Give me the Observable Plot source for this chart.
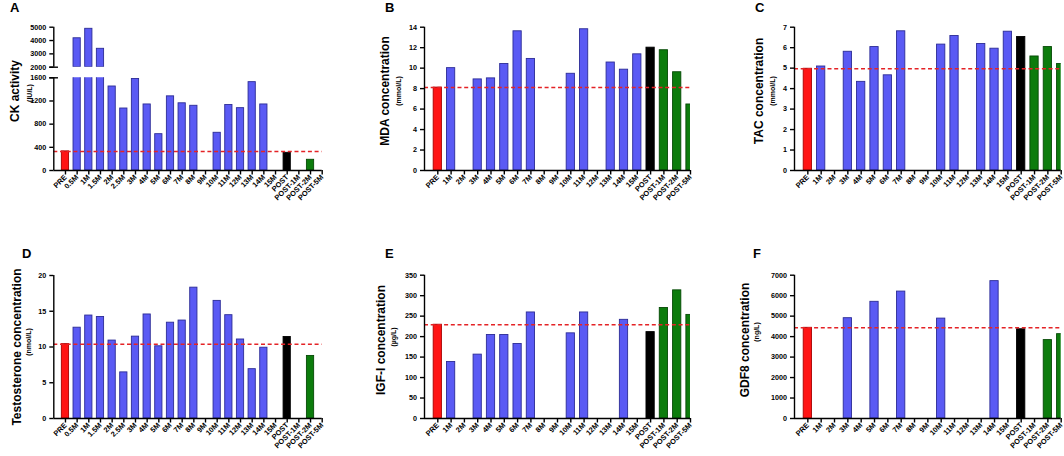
<!DOCTYPE html>
<html><head><meta charset="utf-8">
<script src="https://cdn.jsdelivr.net/npm/d3@7"></script>
<script src="https://cdn.jsdelivr.net/npm/@observablehq/plot@0.6"></script>
<style>
body{margin:0;background:#fff;}
#chart{position:relative;width:1064px;height:456px;overflow:hidden;font-family:"Liberation Sans",Arial,Helvetica,sans-serif;background:#fff;}
#chart svg{position:absolute;}
.lbl{position:absolute;font-weight:bold;white-space:nowrap;color:#000;line-height:1;}
.panel{font-size:13px;}
.ytitle{font-size:12px;transform:translate(-50%,-50%) rotate(-90deg);}
.yunit{font-size:7px;transform:translate(-50%,-50%) rotate(-90deg);}
</style></head><body><div id="chart"></div>
<script>
// ---------- data ----------
const catsLong = ["PRE","0.5M","1M","1.5M","2M","2.5M","3M","4M","5M","6M","7M","8M","9M","10M","11M","12M","13M","14M","15M","POST","POST-1M","POST-2M","POST-5M"];
const catsShort = ["PRE","1M","2M","3M","4M","5M","6M","7M","8M","9M","10M","11M","12M","13M","14M","15M","POST","POST-1M","POST-2M","POST-5M"];

const ckValues = [330,4170,4880,3380,1450,1070,1580,1140,627,1280,1160,1117,null,651,1130,1076,1525,1140,null,305,null,185,null];
const mdaValues = [8.1,10.0,null,8.9,9.0,10.4,13.6,10.9,null,null,9.45,13.8,null,10.55,9.85,11.35,12.0,11.75,9.6,6.45];
const tacValues = [4.97,5.08,null,5.8,4.33,6.03,4.65,6.8,null,null,6.15,6.57,null,6.18,5.95,6.78,6.52,5.57,6.03,5.2];
const testoValues = [10.4,12.7,14.4,14.2,10.9,6.45,11.45,14.55,10.1,13.4,13.7,18.3,null,16.45,14.45,11.05,6.9,9.9,null,11.4,null,8.75,null];
const igfValues = [229,138,null,156,204,204,182,259,null,null,208,259,null,null,241,null,211,270,313,253];
const gdfValues = [4430,null,null,4900,null,5700,null,6200,null,null,4880,null,null,null,6710,null,4360,null,3830,4120];

const ckTicksLow = [0,400,800,1200,1600];
const ckTicksHigh = [2000,3000,4000,5000];
const mdaTicks = [0,2,4,6,8,10,12,14];
const tacTicks = [0,1,2,3,4,5,6,7];
const testoTicks = [0,5,10,15,20];
const igfTicks = [0,50,100,150,200,250,300,350];
const gdfTicks = [0,1000,2000,3000,4000,5000,6000,7000];

// ---------- styling ----------
function fillOf(c){ return c === "PRE" ? "#ff1414" : c === "POST" ? "#000000" : c.startsWith("POST-") ? "#0c7c0c" : "#5a5af4"; }
function strokeOf(c){ return c === "PRE" ? "#a80000" : c === "POST" ? "#000000" : c.startsWith("POST-") ? "#064a06" : "#2c2c96"; }

// box = [x0, y0, x1, y1] region of the svg on the page; frame = [left, top, right, bottom] in page pixels
function makePlot({cats, values, domain, ticks, box, frame, xAxis = true, breakMark = null, showRef = true}) {
  const [bx0, by0, bx1, by1] = box;
  const [fl, ft, fr, fb] = frame;
  const data = cats.map((c, i) => ({c, i, v: values[i]})).filter(d => d.v != null && d.v > domain[0]);
  const xmin = -1, xmax = cats.length - 1;
  const half = 0.31;
  const marks = [
    Plot.rectY(data, {
      x1: d => d.i - half, x2: d => d.i + half,
      y1: domain[0], y2: "v",
      fill: d => fillOf(d.c), stroke: d => strokeOf(d.c), strokeWidth: 0.9,
      clip: true
    })
  ];
  if (showRef) {
    marks.push(Plot.ruleY([values[0]], {stroke: "#e42326", strokeWidth: 1.5, strokeDasharray: "4,2.7"}));
  }
  marks.push(Plot.ruleX([xmin], {stroke: "#000", strokeWidth: 1.4}));
  marks.push(Plot.axisY({ticks, tickSize: 4, tickPadding: 3.5, tickFormat: d => String(d), strokeWidth: 1.4, fontSize: 7.2, label: null}));
  if (breakMark != null) {
    marks.push(Plot.ruleY([breakMark], {x1: xmin - 0.35, x2: xmin + 0.4, stroke: "#000", strokeWidth: 1.4}));
  }
  if (xAxis) {
    marks.push(Plot.ruleY([domain[0]], {stroke: "#000", strokeWidth: 1.4}));
    marks.push(Plot.axisX({ticks: d3.range(cats.length), tickFormat: i => cats[i], tickRotate: -45, tickSize: 4.5, tickPadding: 1, strokeWidth: 1.4, fontSize: 7.4, label: null}));
  }
  const svg = Plot.plot({
    width: bx1 - bx0, height: by1 - by0,
    marginLeft: fl - bx0, marginRight: bx1 - fr, marginTop: ft - by0, marginBottom: by1 - fb,
    x: {type: "linear", domain: [xmin, xmax], label: null, axis: xAxis ? undefined : null},
    y: {domain, label: null},
    color: {type: "identity"},
    style: {background: "#fff", fontFamily: "'Liberation Sans', Arial, sans-serif", fontSize: "7.4px", fontWeight: "bold", color: "#000", overflow: "visible", maxWidth: "none"},
    marks
  });
  svg.style.left = bx0 + "px";
  svg.style.top = by0 + "px";
  return svg;
}

const chart = document.getElementById("chart");
const plots = [
  // A (broken axis: upper and lower segments)
  makePlot({cats: catsLong, values: ckValues, domain: [2000, 5000], ticks: ckTicksHigh, box: [0, 0, 355, 72], frame: [53.3, 26.7, 321.7, 66.7], xAxis: false, breakMark: 2000, showRef: false}),
  makePlot({cats: catsLong, values: ckValues, domain: [0, 1600], ticks: ckTicksLow, box: [0, 72, 355, 228], frame: [53.3, 77.3, 321.7, 170], breakMark: 1600}),
  // B
  makePlot({cats: catsShort, values: mdaValues, domain: [0, 14], ticks: mdaTicks, box: [355, 0, 720, 228], frame: [424, 26.7, 690, 170]}),
  // C
  makePlot({cats: catsShort, values: tacValues, domain: [0, 7], ticks: tacTicks, box: [720, 0, 1064, 228], frame: [794, 26.7, 1060.7, 170]}),
  // D
  makePlot({cats: catsLong, values: testoValues, domain: [0, 20], ticks: testoTicks, box: [0, 228, 355, 456], frame: [53.3, 275, 321.7, 418]}),
  // E
  makePlot({cats: catsShort, values: igfValues, domain: [0, 350], ticks: igfTicks, box: [355, 228, 720, 456], frame: [424, 274.7, 690, 418]}),
  // F
  makePlot({cats: catsShort, values: gdfValues, domain: [0, 7000], ticks: gdfTicks, box: [720, 228, 1064, 456], frame: [794, 274.7, 1060.7, 418]})
];
plots.forEach(p => chart.appendChild(p));

// ---------- text labels ----------
const panelLetters = [["A",10,1.3],["B",385,1.3],["C",755,1.3],["D",22,247],["E",385,247],["F",753,247]];
const yTitles = [
  ["CK activity",15,91,"(IU/L)",29.3,93],
  ["MDA concentration",385,91,"(mmol/L)",398,91],
  ["TAC concentration",759,91,"(mmol/L)",771.7,91],
  ["Testosterone concentration",16.7,347,"(nmol/L)",28.3,342],
  ["IGF-I concentration",380.7,339.7,"(µg/L)",393.3,336.7],
  ["GDF8 concentration",745,339.7,"(ng/L)",756,331.7]
];
function addLabel(text, cls, x, y){
  const d = document.createElement("div");
  d.className = "lbl " + cls;
  d.textContent = text;
  d.style.left = x + "px";
  d.style.top = y + "px";
  chart.appendChild(d);
}
panelLetters.forEach(([t,x,y]) => addLabel(t, "panel", x, y));
yTitles.forEach(([t,x,y,u,ux,uy]) => { addLabel(t, "ytitle", x, y); addLabel(u, "yunit", ux, uy); });
</script>
</body></html>
